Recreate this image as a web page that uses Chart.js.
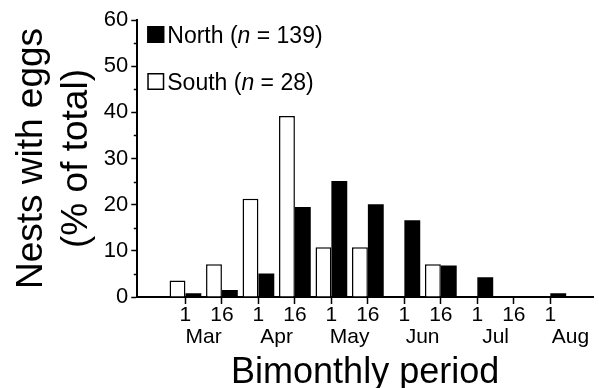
<!DOCTYPE html>
<html>
<head>
<meta charset="utf-8">
<script src="https://cdn.jsdelivr.net/npm/chart.js@4"></script>
<style>
  html, body { margin: 0; padding: 0; background: #fff; }
  #wrap { width: 599px; height: 388px; position: relative; }
</style>
</head>
<body>
<div id="wrap"><canvas id="nestChart"></canvas></div>
<script>
// ---- Data ----
const periods = [0, 1, 2, 3, 4, 5, 6, 7, 8, 9, 10];
const dayLabels = ['1', '16', '1', '16', '1', '16', '1', '16', '1', '16', '1'];
const monthLabels = ['Mar', 'Apr', 'May', 'Jun', 'Jul', 'Aug'];
const monthPositions = [0.5, 2.5, 4.5, 6.5, 8.5, 10.55];
const southValues = [3.6, 7.1, 21.3, 39.2, 10.8, 10.8, 0, 7.1, 0, 0, 0];
const northValues = [0.8, 1.5, 5.1, 19.5, 25.1, 20.1, 16.6, 6.8, 4.3, 0, 0.8];
const yTicks = [0, 10, 20, 30, 40, 50, 60];
const yMinorTicks = [5, 15, 25, 35, 45, 55];
const legendItems = [
  { name: 'North', n: 139, fill: '#000' },
  { name: 'South', n: 28, fill: '#fff' }
];

const FONT = "'Liberation Sans', Arial, Helvetica, sans-serif";

function toPoints(values) {
  return periods.map((p, i) => ({ x: p, y: values[i] }));
}

// short minor ticks on the y axis
const minorTicks = {
  id: 'minorTicks',
  afterDraw(chart) {
    const y = chart.scales.y;
    const ctx = chart.ctx;
    const left = chart.chartArea.left;
    ctx.save();
    ctx.strokeStyle = '#000';
    ctx.lineWidth = 1.5;
    yMinorTicks.forEach(v => {
      const py = Math.round(y.getPixelForValue(v)) + 0.5;
      ctx.beginPath();
      ctx.moveTo(left - 3.5, py);
      ctx.lineTo(left, py);
      ctx.stroke();
    });
    ctx.restore();
  }
};

// legend with italic n
const nestLegend = {
  id: 'nestLegend',
  afterDraw(chart) {
    const ctx = chart.ctx;
    const x0 = chart.chartArea.left + 10;
    let top = chart.chartArea.top + 6;
    ctx.save();
    ctx.textBaseline = 'alphabetic';
    legendItems.forEach(item => {
      ctx.fillStyle = item.fill;
      ctx.fillRect(x0, top, 17, 17);
      ctx.strokeStyle = '#000';
      ctx.lineWidth = 1.5;
      ctx.strokeRect(x0 + 0.75, top + 0.75, 15.5, 15.5);

      ctx.fillStyle = '#000';
      let tx = x0 + 20;
      const base = top + 17;
      const parts = [
        { t: item.name + ' (', f: '23px ' + FONT },
        { t: 'n', f: 'italic 23px ' + FONT },
        { t: ' = ' + item.n + ')', f: '23px ' + FONT }
      ];
      parts.forEach(p => {
        ctx.font = p.f;
        ctx.fillText(p.t, tx, base);
        tx += ctx.measureText(p.t).width;
      });
      top += 47;
    });
    ctx.restore();
  }
};

const ctx = document.getElementById('nestChart');

new Chart(ctx, {
  type: 'bar',
  data: {
    datasets: [
      {
        label: 'South (n = 28)',
        data: toPoints(southValues),
        backgroundColor: '#fff',
        borderColor: '#000',
        borderWidth: 1.5,
        borderSkipped: 'bottom',
        categoryPercentage: 0.87,
        barPercentage: 1.0
      },
      {
        label: 'North (n = 139)',
        data: toPoints(northValues),
        backgroundColor: '#000',
        borderColor: '#000',
        borderWidth: 0,
        categoryPercentage: 0.87,
        barPercentage: 1.0
      }
    ]
  },
  options: {
    responsive: true,
    maintainAspectRatio: false,
    animation: false,
    devicePixelRatio: 1,
    layout: {
      padding: { left: 10, right: 6, top: 20, bottom: 0 }
    },
    plugins: {
      legend: { display: false },
      tooltip: { enabled: false }
    },
    scales: {
      x: {
        type: 'linear',
        position: 'bottom',
        min: -1.32,
        max: 11.17,
        offset: false,
        grid: {
          offset: false,
          drawOnChartArea: false,
          drawTicks: true,
          tickLength: 7,
          tickWidth: 1.5,
          tickColor: '#000'
        },
        border: { display: true, color: '#000', width: 2 },
        afterBuildTicks: axis => {
          axis.ticks = periods.map(v => ({ value: v }));
        },
        ticks: {
          autoSkip: false,
          maxRotation: 0,
          padding: 1,
          color: '#000',
          font: { family: FONT, size: 21, lineHeight: 1 },
          callback: (v, i) => dayLabels[i]
        }
      },
      x2: {
        type: 'linear',
        position: 'bottom',
        min: -1.32,
        max: 11.17,
        offset: false,
        grid: { display: false, drawTicks: false },
        border: { display: false },
        afterBuildTicks: axis => {
          axis.ticks = monthPositions.map(v => ({ value: v }));
        },
        ticks: {
          autoSkip: false,
          maxRotation: 0,
          padding: 0,
          color: '#000',
          font: { family: FONT, size: 21, lineHeight: 1 },
          callback: (v, i) => monthLabels[i]
        },
        title: {
          display: true,
          text: 'Bimonthly period',
          color: '#000',
          padding: { top: 7, bottom: -3 },
          font: { family: FONT, size: 36, lineHeight: 1 }
        }
      },
      y: {
        min: 0,
        max: 60,
        afterBuildTicks: axis => {
          axis.ticks = yTicks.map(v => ({ value: v }));
        },
        grid: {
          drawOnChartArea: false,
          drawTicks: true,
          tickLength: 6,
          tickWidth: 1.5,
          tickColor: '#000'
        },
        border: { display: true, color: '#000', width: 2 },
        ticks: {
          padding: 3,
          color: '#000',
          font: { family: FONT, size: 22 }
        },
        title: {
          display: true,
          text: ['Nests with eggs', '(% of total)'],
          color: '#000',
          padding: { top: 0, bottom: 2 },
          font: { family: FONT, size: 37, lineHeight: 1.2 }
        }
      }
    }
  },
  plugins: [minorTicks, nestLegend]
});
</script>
</body>
</html>
